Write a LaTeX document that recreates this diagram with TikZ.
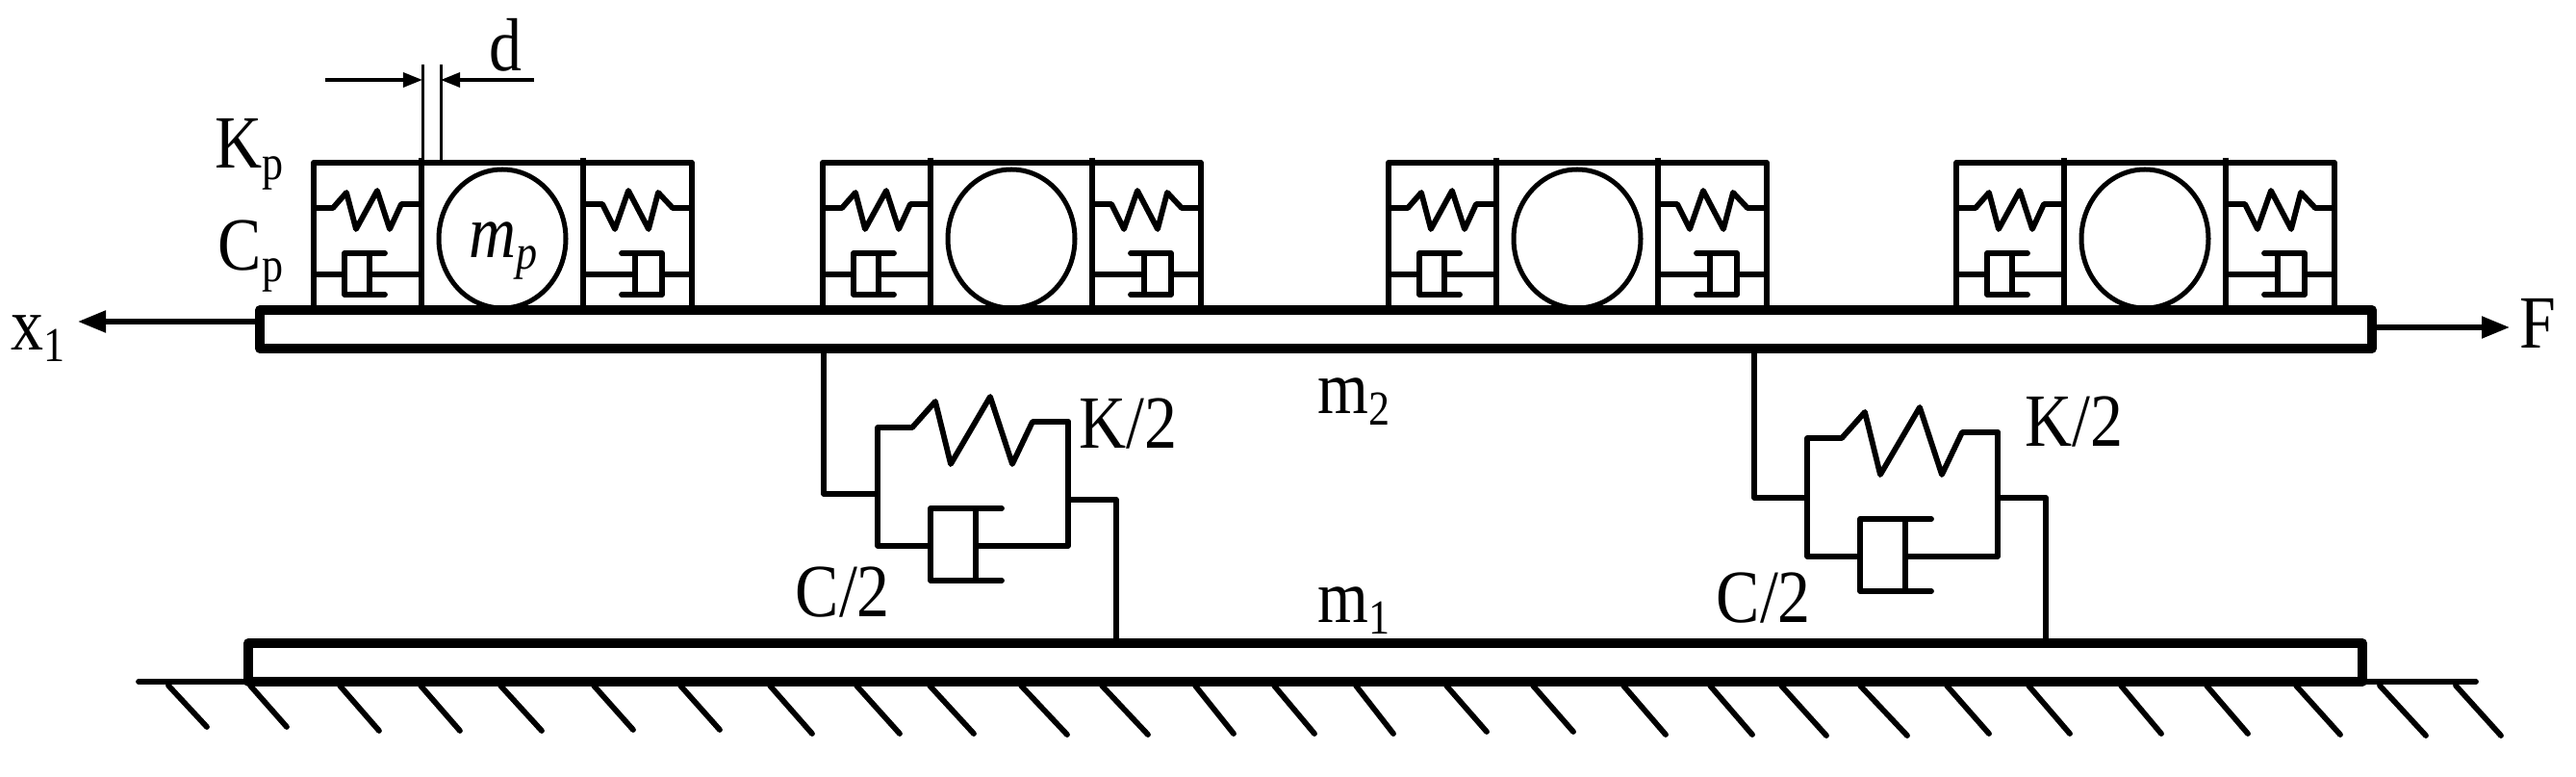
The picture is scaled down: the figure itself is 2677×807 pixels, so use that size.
\documentclass[tikz,border=0pt]{standalone}
\usepackage{fontspec}
\setmainfont[FakeStretch=0.87]{Liberation Serif}
\usetikzlibrary{arrows.meta}
\newcommand{\labfont}{\fontsize{22.2pt}{26pt}\selectfont}
\newcommand{\lowsub}[1]{\raisebox{-0.12cm}{\fontsize{14.4pt}{16pt}\selectfont #1}}
\tikzset{
	barline/.style={line width=0.098cm, line join=round},
	rodline/.style={line width=0.058cm, line join=round, line cap=round},
	dimline/.style={line width=0.03cm},
	forcetip/.style={line width=0.052cm, -{Triangle[length=0.29cm,width=0.22cm]}},
	dimtip/.style={line width=0.032cm, -{Triangle[length=0.2cm,width=0.15cm]}},
	lab/.style={anchor=base west, inner sep=0, font=\labfont}
}
\begin{document}
\begin{tikzpicture}[x=0.01cm,y=-0.01cm]
	\useasboundingbox (0,0) rectangle (2677,807);

	\draw[rodline] (144,708) -- (2573,708);
	\foreach \hx/\hb/\hy in {175/215/755, 260/298/755, 353/394/759, 437/478/759, 520/563/759, 617/658/758, 707/748/758, 800/844/762, 890/935/762, 966/1012/762, 1061/1109/763, 1145/1193/763, 1242/1282/762, 1324/1366/762, 1409/1448/762, 1503/1545/760, 1593/1635/760, 1687/1731/763, 1777/1821/763, 1851/1898/764, 1933/1982/764, 2023/2067/762, 2108/2151/762, 2204/2246/762, 2293/2336/762, 2386/2432/763, 2473/2521/764, 2552/2599/764}
		\draw[rodline] (\hx,712) -- (\hb,\hy);

	\draw[barline] (258,668) rectangle (2455,708);
	\draw[barline] (270,322) rectangle (2465,362);

	\foreach \cx in {326,855,1443,2033}{
		\begin{scope}[shift={(\cx,0)}]
			\draw[rodline] (0,322) -- (0,169) -- (393,169) -- (393,322);
			\draw[rodline, line cap=butt] (112,164) -- (112,322);
			\draw[rodline, line cap=butt] (280,164) -- (280,322);
			\draw[rodline, line width=0.05cm] (196,248) ellipse [x radius=66, y radius=72];
			\draw[rodline] (0,216) -- (20,216) -- (34,200) -- (44,238) -- (66,198) -- (79,238) -- (91,212) -- (112,212);
			\draw[rodline] (74,263) -- (32,263) -- (32,306) -- (74,306);
			\draw[rodline] (58,263) -- (58,306);
			\draw[rodline] (0,285) -- (32,285);
			\draw[rodline] (58,285) -- (112,285);
			\draw[rodline] (280,212) -- (300,212) -- (313,238) -- (327,198) -- (348,238) -- (358,200) -- (373,216) -- (393,216);
			\draw[rodline] (320,263) -- (362,263) -- (362,306) -- (320,306);
			\draw[rodline] (334,263) -- (334,306);
			\draw[rodline] (280,285) -- (334,285);
			\draw[rodline] (362,285) -- (393,285);
		\end{scope}
	}

	\foreach \sx/\sy in {0/0,966/11}{
		\begin{scope}[shift={(\sx,\sy)}]
			\draw[rodline] (1110,438) -- (1073,438) -- (1052,482) -- (1029,412) -- (988,482) -- (972,417) -- (948,444) -- (912,444) -- (912,567) -- (967,567);
			\draw[rodline] (1110,438) -- (1110,567) -- (1014,567);
			\draw[rodline] (1041,528) -- (967,528) -- (967,603) -- (1041,603);
			\draw[rodline] (1014,528) -- (1014,603);
		\end{scope}
	}
	\draw[rodline] (856,362) -- (856,513) -- (912,513);
	\draw[rodline] (1110,519) -- (1160,519) -- (1160,668);
	\draw[rodline] (1823,362) -- (1823,517) -- (1878,517);
	\draw[rodline] (2076,517) -- (2126,517) -- (2126,668);

	\coordinate (xtail) at (270,334);
	\coordinate (xtip) at (81,334);
	\coordinate (ftail) at (2465,340);
	\coordinate (ftip) at (2608,340);
	\draw[forcetip] (xtail) -- (xtip);
	\draw[forcetip] (ftail) -- (ftip);

	\coordinate (dleft) at (439,83);
	\coordinate (dright) at (458,83);
	\coordinate (dlefttail) at (338,83);
	\coordinate (drighttail) at (555,83);
	\draw[dimtip] (dlefttail) -- (dleft);
	\draw[dimtip] (drighttail) -- (dright);
	\draw[dimline] (439,67) -- (439,169);
	\draw[dimline] (458,67) -- (458,169);

	\node[lab] (dlab) at (508,74) {d};
	\node[lab] (kplab) at (223,175) {K\lowsub{p}};
	\node[lab] (cplab) at (226,281) {C\lowsub{p}};
	\node[lab] (xlab) at (11,364) {x\lowsub{1}};
	\node[lab] (flab) at (2618,362) {F};
	\node[lab] (mplab) at (487,268) {\textit{m}\lowsub{\textit{p}}};
	\node[lab] (mtwolab) at (1369,430) {m\lowsub{2}};
	\node[lab] (monelab) at (1369,647) {m\lowsub{1}};
	\node[lab] (kleft) at (1121,466) {K/2};
	\node[lab] (cleft) at (826,641) {C/2};
	\node[lab] (kright) at (2104,464) {K/2};
	\node[lab] (cright) at (1783,647) {C/2};
\end{tikzpicture}
\end{document}
